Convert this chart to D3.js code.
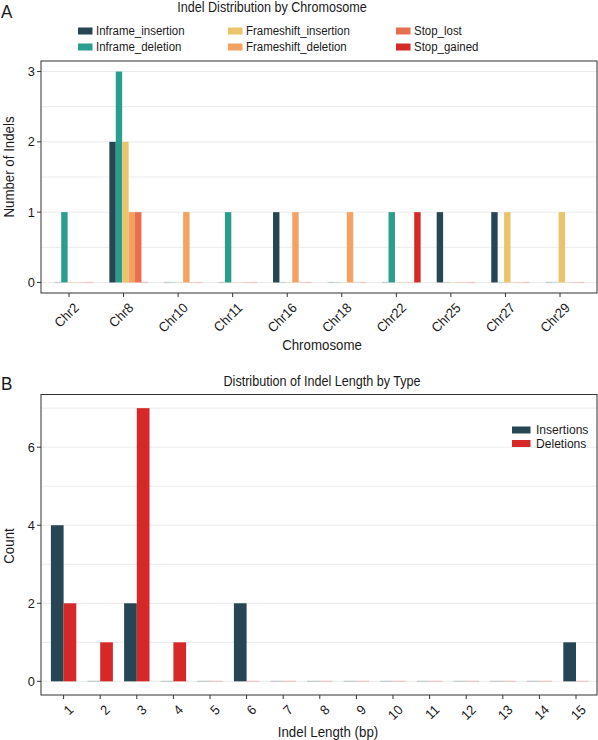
<!doctype html>
<html lang="en">

<head>
  <title>Indel distribution</title>
  <meta charset="utf-8" />
  <script src="https://d3js.org/d3.v7.min.js"></script>
  <style>
    body { margin: 0; background: #fff; }
    text { font-family: "Liberation Sans", Arial, sans-serif; fill: #1a1a1a; }
  </style>
</head>

<body>
  <div id="chart"></div>

  <script>
    // ---- panel A data ----
    const chromosomes = ["Chr2", "Chr8", "Chr10", "Chr11", "Chr16", "Chr18", "Chr22", "Chr25", "Chr27", "Chr29"];
    const indelTypes = ["Inframe_insertion", "Inframe_deletion", "Frameshift_insertion",
      "Frameshift_deletion", "Stop_lost", "Stop_gained"];
    const typeColors = ["#264653", "#2a9d8f", "#e9c46a", "#f4a261", "#e76f51", "#d62828"];
    // counts per chromosome, in indelTypes order
    const inframeInsertion = [0, 2, 0, 0, 1, 0, 0, 1, 1, 0];
    const inframeDeletion = [1, 3, 0, 1, 0, 0, 1, 0, 0, 0];
    const frameshiftInsertion = [0, 2, 0, 0, 0, 0, 0, 0, 1, 1];
    const frameshiftDeletion = [0, 1, 1, 0, 1, 1, 0, 0, 0, 0];
    const stopLost = [0, 1, 0, 0, 0, 0, 0, 0, 0, 0];
    const stopGained = [0, 0, 0, 0, 0, 0, 1, 0, 0, 0];
    const chrTicks = [0, 1, 2, 3];

    // ---- panel B data ----
    const lengths = ["1", "2", "3", "4", "5", "6", "7", "8", "9", "10", "11", "12", "13", "14", "15"];
    const lengthGroups = ["Insertions", "Deletions"];
    const lengthColors = ["#264653", "#d62828"];
    const insertions = [4, 0, 2, 0, 0, 2, 0, 0, 0, 0, 0, 0, 0, 0, 1];
    const deletions = [2, 1, 7, 1, 0, 0, 0, 0, 0, 0, 0, 0, 0, 0, 0];
    const lenTicks = [0, 2, 4, 6];

    const svg = d3.select("#chart").append("svg")
      .attr("width", 598)
      .attr("height", 740);

    /* text placed in its own group so it can be squeezed horizontally like the original */
    function label(parent, str, x, y, size, opts) {
      opts = opts || {};
      const g = parent.append("g")
        .attr("transform", "translate(" + x + "," + y + ") rotate(" + (opts.rotate || 0) + ") scale(" + (opts.sx || 1) + ",1)");
      const t = g.append("text")
        .text(str)
        .attr("font-size", size)
        .attr("text-anchor", opts.anchor || "start");
      if (opts.baseline) t.attr("dominant-baseline", opts.baseline);
      if (opts.dy) t.attr("dy", opts.dy);
      return t;
    }

    /* shared frame: grid, bars, axes, border */
    function drawPanel(p) {
      const g = svg.append("g");

      // horizontal grid
      g.selectAll("line.grid")
        .data(p.grid)
        .enter()
        .append("line")
        .attr("x1", p.left).attr("x2", p.right)
        .attr("y1", d => p.y(d)).attr("y2", d => p.y(d))
        .attr("stroke", "#ebebeb")
        .attr("stroke-width", 1);

      // bars
      const groups = g.selectAll("g.grp")
        .data(p.rows)
        .enter()
        .append("g")
        .attr("transform", d => "translate(" + p.x(d.key) + ",0)");

      groups.selectAll("rect")
        .data(d => d.values)
        .enter()
        .append("rect")
        .attr("x", d => p.inner(d.series))
        .attr("width", p.inner.bandwidth())
        .attr("y", d => d.value > 0 ? p.y(d.value) : p.y(0) - 0.75)
        .attr("height", d => d.value > 0 ? p.y(0) - p.y(d.value) : 1.5)
        .attr("fill", d => p.color(d.series))
        .attr("opacity", d => d.value > 0 ? 1 : 0.18);

      // y axis ticks + labels
      g.selectAll("line.ytick")
        .data(p.yTicks)
        .enter()
        .append("line")
        .attr("x1", p.left - 4).attr("x2", p.left)
        .attr("y1", d => p.y(d)).attr("y2", d => p.y(d))
        .attr("stroke", "#333");

      p.yTicks.forEach(d => {
        label(g, d, p.left - 6, p.y(d), 13.5, { anchor: "end", baseline: "central", sx: 0.95 });
      });

      // x ticks + rotated labels
      g.selectAll("line.xtick")
        .data(p.x.domain())
        .enter()
        .append("line")
        .attr("x1", d => p.x(d)).attr("x2", d => p.x(d))
        .attr("y1", p.bottom).attr("y2", p.bottom + 4)
        .attr("stroke", "#333");

      p.x.domain().forEach(d => {
        label(g, d, p.x(d) + 4, p.bottom + 9, 13.5, { anchor: "end", dy: "0.7em", rotate: -45, sx: 0.95 });
      });

      // panel border
      g.append("rect")
        .attr("x", p.left).attr("y", p.top)
        .attr("width", p.right - p.left).attr("height", p.bottom - p.top)
        .attr("fill", "none")
        .attr("stroke", "#333")
        .attr("stroke-width", 1);

      // titles
      label(g, p.title, p.titleX, p.titleY, 14, { anchor: "middle", sx: 0.9 });
      label(g, p.xTitle, p.xTitleX, p.xTitleY, 14, { anchor: "middle", sx: 0.95 });
      label(g, p.yTitle, 14, p.yTitleY, 14, { anchor: "middle", rotate: -90, sx: 0.95 });
      label(g, p.letter, 1, p.letterY, 18, { sx: 0.95 });
    }

    // ---------- panel A ----------
    const seriesA = [inframeInsertion, inframeDeletion, frameshiftInsertion, frameshiftDeletion, stopLost, stopGained];
    const rowsA = chromosomes.map((c, i) => ({
      key: c,
      values: indelTypes.map((t, j) => ({ series: t, value: seriesA[j][i] }))
    }));

    const xA = d3.scalePoint().domain(chromosomes).range([69, 560]);
    const innerA = d3.scaleBand().domain(indelTypes).range([-14.2, 24.3]);
    const yA = d3.scaleLinear().domain([-0.15, 3.15]).range([293, 61]);
    const colorA = d3.scaleOrdinal().domain(indelTypes).range(typeColors);

    drawPanel({
      left: 41, right: 597, top: 61, bottom: 293,
      x: xA, inner: innerA, y: yA, color: colorA, rows: rowsA,
      grid: d3.range(0, 3.01, 0.5), yTicks: chrTicks,
      title: "Indel Distribution by Chromosome", titleX: 272, titleY: 12,
      xTitle: "Chromosome", xTitleX: 322, xTitleY: 350,
      yTitle: "Number of Indels", yTitleY: 167, letter: "A", letterY: 18
    });

    // legend A (3 columns x 2 rows)
    const legA = svg.append("g");
    const legCols = [78, 228, 396];
    const legRows = [31, 47];
    indelTypes.forEach((d, i) => {
      const item = legA.append("g")
        .attr("transform", "translate(" + legCols[Math.floor(i / 2)] + "," + legRows[i % 2] + ")");
      item.append("rect")
        .attr("x", 0).attr("y", -3.5)
        .attr("width", 14.5).attr("height", 7)
        .attr("fill", colorA(d));
      label(item, d, 18, 0, 13.5, { baseline: "central", sx: 0.85 });
    });

    // ---------- panel B ----------
    const seriesB = [insertions, deletions];
    const rowsB = lengths.map((l, i) => ({
      key: l,
      values: lengthGroups.map((t, j) => ({ series: t, value: seriesB[j][i] }))
    }));

    const xB = d3.scalePoint().domain(lengths).range([63.6, 576]);
    const innerB = d3.scaleBand().domain(lengthGroups).range([-12.7, 12.7]);
    const yB = d3.scaleLinear().domain([-0.35, 7.35]).range([695, 394.5]);
    const colorB = d3.scaleOrdinal().domain(lengthGroups).range(lengthColors);

    drawPanel({
      left: 41, right: 597, top: 394.5, bottom: 695,
      x: xB, inner: innerB, y: yB, color: colorB, rows: rowsB,
      grid: d3.range(0, 7.01, 1), yTicks: lenTicks,
      title: "Distribution of Indel Length by Type", titleX: 322, titleY: 386,
      xTitle: "Indel Length (bp)", xTitleX: 328, xTitleY: 737,
      yTitle: "Count", yTitleY: 546, letter: "B", letterY: 390
    });

    // legend B
    const legB = svg.append("g")
      .attr("transform", "translate(512,430)");
    lengthGroups.forEach((d, i) => {
      const item = legB.append("g")
        .attr("transform", "translate(0," + (i * 13.5) + ")");
      item.append("rect")
        .attr("x", 0).attr("y", -3.5)
        .attr("width", 18.5).attr("height", 7)
        .attr("fill", colorB(d));
      label(item, d, 24, 0, 13, { baseline: "central", sx: 0.93 });
    });
  </script>

</body></html>
